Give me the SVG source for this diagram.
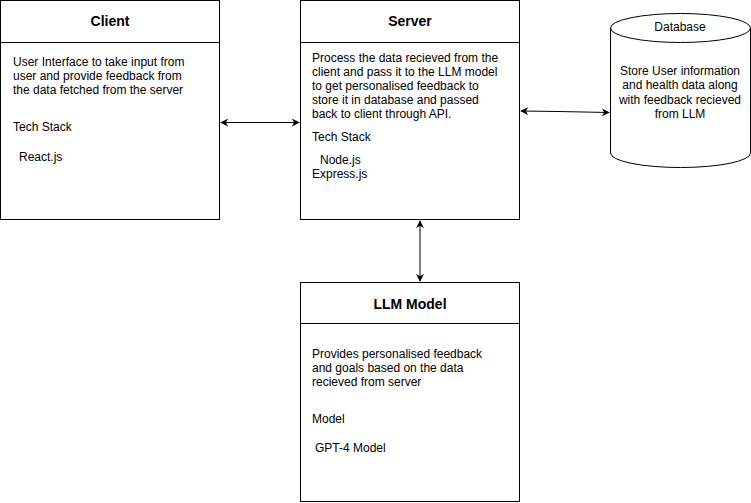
<svg xmlns="http://www.w3.org/2000/svg" width="751" height="503" viewBox="0 0 751 503">
<style>
.box{fill:#fff;stroke:#000;stroke-width:1}
.t{font-family:"Liberation Sans",Arial,sans-serif;font-size:12px;fill:#000}
.h{font-family:"Liberation Sans",Arial,sans-serif;font-size:14px;font-weight:bold;fill:#000;text-anchor:middle}
.c{text-anchor:middle}
.e{fill:none;stroke:#000;stroke-width:1;marker-start:url(#a);marker-end:url(#a)}
</style>
<defs>
<marker id="a" viewBox="0 0 10 10" refX="9" refY="5" markerWidth="8" markerHeight="8" markerUnits="userSpaceOnUse" orient="auto-start-reverse">
<path d="M0,0 L10,5 L0,10 L3,5 Z" fill="#000"/>
</marker>
</defs>
<rect width="751" height="503" fill="#fff"/>
<g id="connectors">
<path class="e" d="M221,122.5 L299,122.5"/>
<path class="e" d="M521,111 L558,111.5 L609,112.5"/>
<path class="e" d="M420,221 L420,281"/>
</g>
<g id="client">
<rect class="box" x="0.5" y="0.5" width="219" height="219"/>
<line x1="0.5" y1="42.5" x2="219.5" y2="42.5" stroke="#000"/>
<text class="h" x="110" y="26">Client</text>
<text class="t" x="13" y="65.5">User Interface to take input from</text>
<text class="t" x="13" y="79.5">user and provide feedback from</text>
<text class="t" x="13" y="94">the data fetched from the server</text>
<text class="t" x="13" y="131">Tech Stack</text>
<text class="t" x="19" y="161">React.js</text>
</g>
<g id="server">
<rect class="box" x="300.5" y="0.5" width="219" height="219"/>
<line x1="300.5" y1="42.5" x2="519.5" y2="42.5" stroke="#000"/>
<text class="h" x="410" y="26">Server</text>
<text class="t" x="312" y="61.5">Process the data recieved from the</text>
<text class="t" x="312" y="75.5">client and pass it to the LLM model</text>
<text class="t" x="312" y="89.5">to get personalised feedback to</text>
<text class="t" x="312" y="103.5">store it in database and passed</text>
<text class="t" x="312" y="118">back to client through API.</text>
<text class="t" x="312" y="141">Tech Stack</text>
<text class="t" x="320" y="164">Node.js</text>
<text class="t" x="312" y="178">Express.js</text>
</g>
<g id="database">
<path class="box" d="M610.5,28 A70,14.5 0 0 1 750.5,28 L750.5,153 A70,14.5 0 0 1 610.5,153 Z"/>
<path d="M610.5,28 A70,14.5 0 0 0 750.5,28" fill="none" stroke="#000"/>
<text class="t c" x="680" y="31">Database</text>
<text class="t c" x="680" y="74.5">Store User information</text>
<text class="t c" x="680" y="88.5">and health data along</text>
<text class="t c" x="680" y="103.5">with feedback recieved</text>
<text class="t c" x="680" y="117.5">from LLM</text>
</g>
<g id="llm">
<rect class="box" x="300.5" y="282.5" width="219" height="219"/>
<line x1="300.5" y1="323.5" x2="519.5" y2="323.5" stroke="#000"/>
<text class="h" x="410" y="308.5">LLM Model</text>
<text class="t" x="312" y="357.5">Provides personalised feedback</text>
<text class="t" x="312" y="372">and goals based on the data</text>
<text class="t" x="312" y="386">recieved from server</text>
<text class="t" x="312" y="423">Model</text>
<text class="t" x="315" y="452">GPT-4 Model</text>
</g>
</svg>
